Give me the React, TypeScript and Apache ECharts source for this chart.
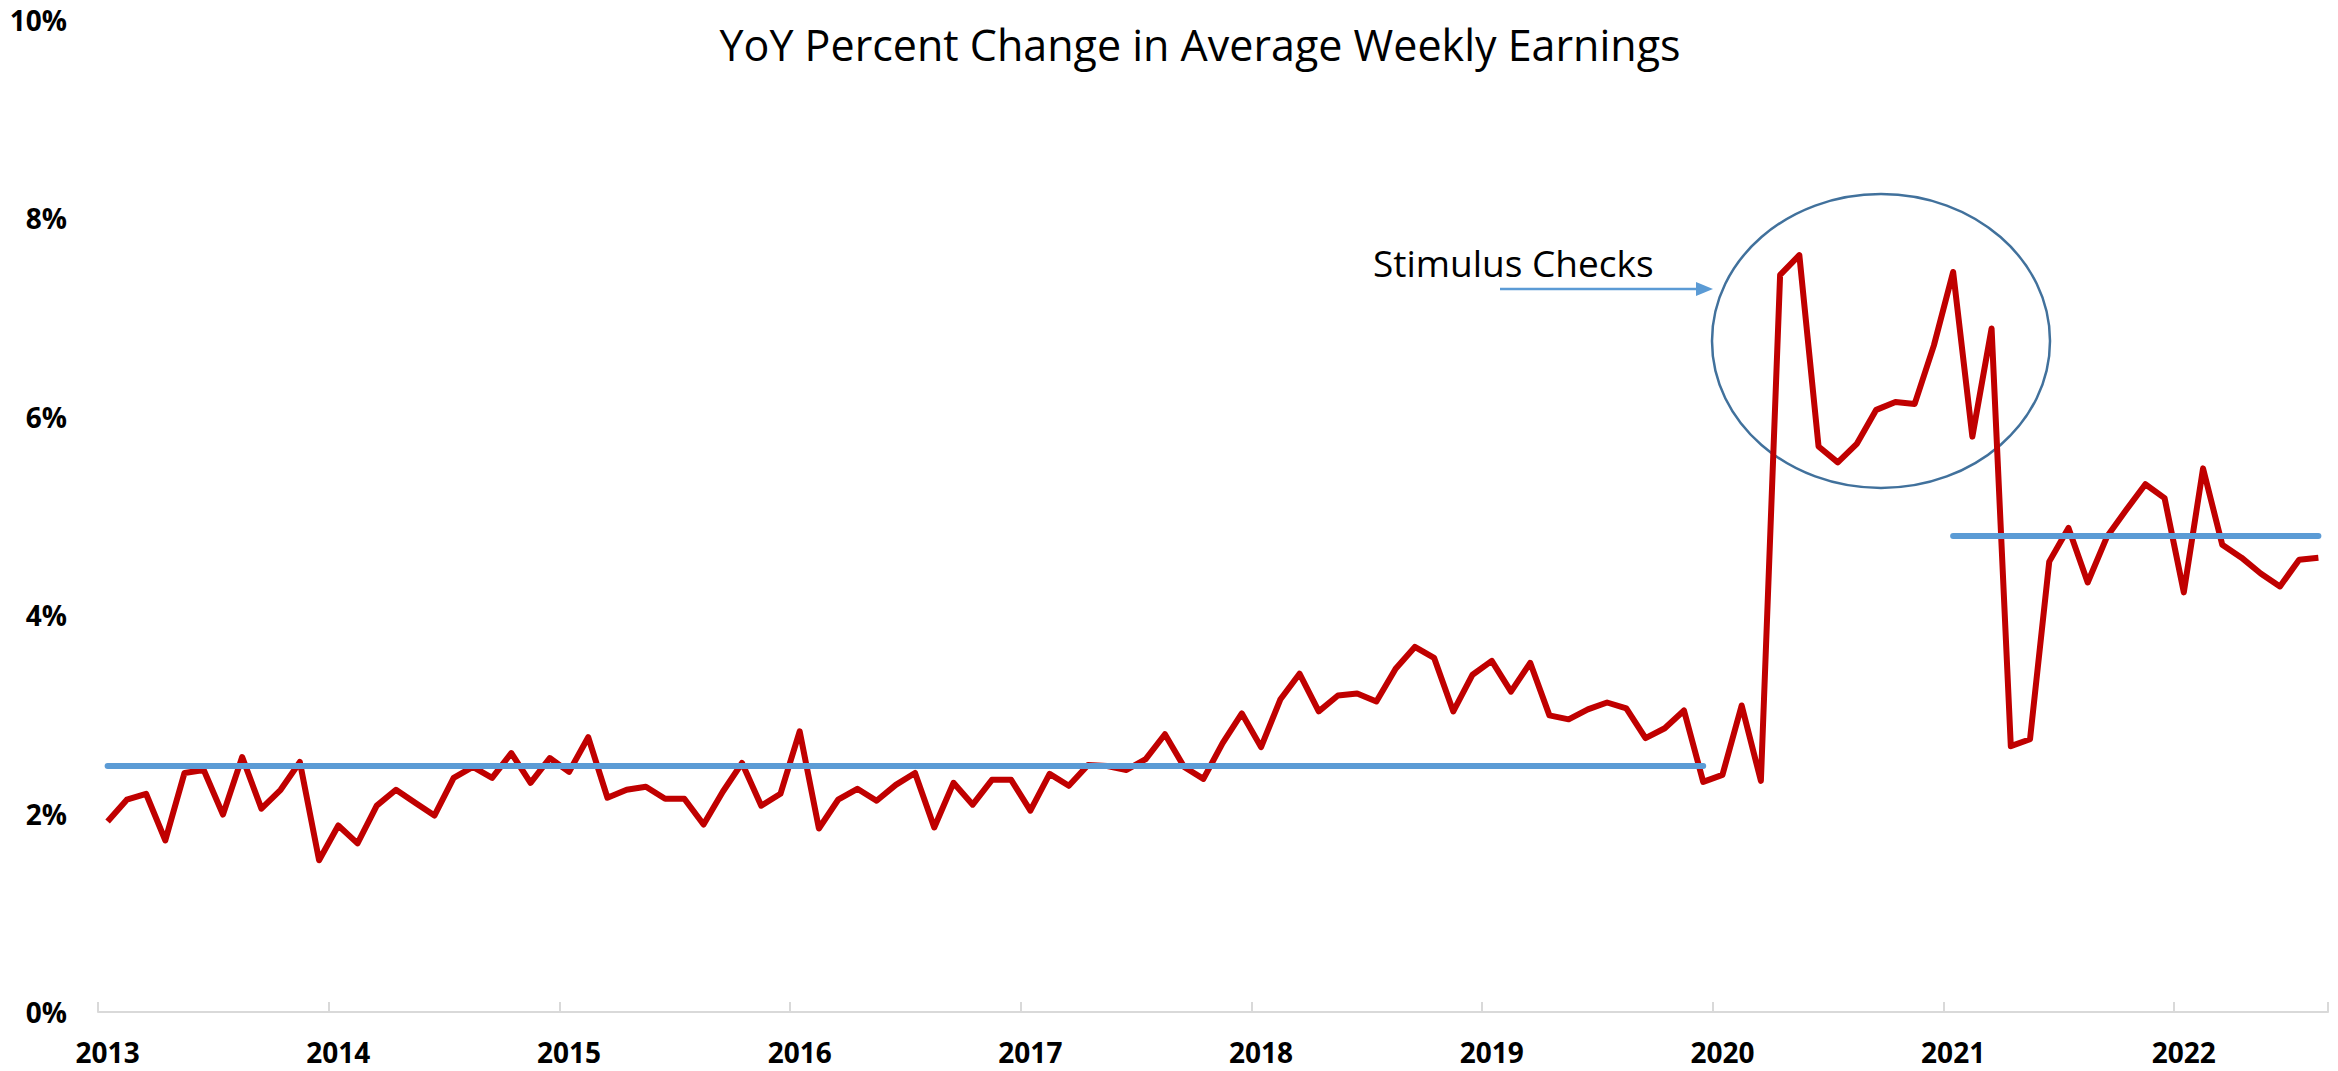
import React, { useEffect, useRef } from "react";
import * as echarts from "echarts";

const years = ["2013", "2014", "2015", "2016", "2017", "2018", "2019", "2020", "2021", "2022"];
const months = ["01", "02", "03", "04", "05", "06", "07", "08", "09", "10", "11", "12"];
const lastMonthCount = 8; // data through Aug 2022

const yoy2013 = [1.92, 2.14, 2.2, 1.73, 2.41, 2.44, 1.99, 2.57, 2.05, 2.24, 2.52, 1.53];
const yoy2014 = [1.88, 1.7, 2.08, 2.24, 2.11, 1.98, 2.36, 2.47, 2.36, 2.61, 2.31, 2.56];
const yoy2015 = [2.42, 2.77, 2.16, 2.24, 2.27, 2.15, 2.15, 1.89, 2.22, 2.51, 2.08, 2.2];
const yoy2016 = [2.83, 1.85, 2.14, 2.25, 2.13, 2.29, 2.41, 1.86, 2.31, 2.09, 2.34, 2.34];
const yoy2017 = [2.03, 2.4, 2.28, 2.49, 2.48, 2.44, 2.55, 2.8, 2.47, 2.35, 2.71, 3.01];
const yoy2018 = [2.67, 3.15, 3.41, 3.03, 3.19, 3.21, 3.13, 3.46, 3.68, 3.57, 3.03, 3.4];
const yoy2019 = [3.54, 3.23, 3.52, 2.99, 2.95, 3.05, 3.12, 3.06, 2.76, 2.86, 3.04, 2.32];
const yoy2020 = [2.39, 3.09, 2.33, 7.43, 7.63, 5.7, 5.54, 5.73, 6.07, 6.15, 6.13, 6.72];
const yoy2021 = [7.46, 5.8, 6.89, 2.68, 2.75, 4.54, 4.88, 4.33, 4.79, 5.06, 5.32, 5.18];
const yoy2022 = [4.23, 5.48, 4.71, 4.58, 4.42, 4.29, 4.56, 4.58];

const avgPeriodStart = ["2013-01", "2021-01"];
const avgPeriodEnd = ["2019-12", "2022-08"];
const avgPeriodValue = [2.48, 4.8];

const yTicks = [0, 2, 4, 6, 8, 10];

const titleText = "YoY Percent Change in Average Weekly Earnings";
const annotationText = "Stimulus Checks";

export default function App() {
  const ref = useRef<HTMLDivElement>(null);

  useEffect(() => {
    if (!ref.current) return;
    const chart = echarts.init(ref.current, undefined, { renderer: "svg" });

    const categories: string[] = [];
    years.forEach((y, yi) => {
      const n = yi === years.length - 1 ? lastMonthCount : 12;
      for (let m = 0; m < n; m++) categories.push(y + "-" + months[m]);
    });
    const values = [
      ...yoy2013, ...yoy2014, ...yoy2015, ...yoy2016, ...yoy2017,
      ...yoy2018, ...yoy2019, ...yoy2020, ...yoy2021, ...yoy2022,
    ];

    const font = "'Open Sans', 'Noto Sans', sans-serif";
    const blue = "#5B9BD5";

    chart.setOption({
      animation: false,
      backgroundColor: "#ffffff",
      grid: { left: 98, right: 10, top: 20, bottom: 59, containLabel: false },
      xAxis: {
        type: "category",
        data: categories,
        boundaryGap: true,
        axisLine: { show: true, lineStyle: { color: "#D9D9D9", width: 2 } },
        axisTick: {
          show: true,
          inside: true,
          length: 10,
          interval: (i: number) => i % 12 === 0,
          lineStyle: { color: "#D9D9D9", width: 2 },
        },
        axisLabel: {
          interval: (i: number) => i % 12 === 0,
          formatter: (v: string) => v.slice(0, 4),
          fontSize: 28,
          fontWeight: "bold",
          fontFamily: font,
          color: "#000",
          margin: 26,
        },
        splitLine: { show: false },
      },
      yAxis: {
        type: "value",
        min: yTicks[0],
        max: yTicks[yTicks.length - 1],
        interval: 2,
        axisLine: { show: false },
        axisTick: { show: false },
        splitLine: { show: false },
        axisLabel: {
          formatter: "{value}%",
          fontSize: 28,
          fontWeight: "bold",
          fontFamily: font,
          color: "#000",
          margin: 31,
        },
      },
      series: [
        {
          type: "line",
          data: values,
          showSymbol: false,
          symbol: "none",
          lineStyle: { color: "#C00000", width: 6, join: "round" },
          itemStyle: { color: "#C00000" },
          z: 2,
        },
        {
          type: "line",
          data: [],
          z: 3,
          markLine: {
            silent: true,
            symbol: ["none", "none"],
            label: { show: false },
            lineStyle: { color: blue, width: 6, type: "solid", cap: "round" },
            data: avgPeriodValue.map((v, k) => [
              { coord: [avgPeriodStart[k], v] },
              { coord: [avgPeriodEnd[k], v] },
            ]),
          },
        },
      ],
      graphic: [
        {
          type: "text",
          x: 1200,
          y: 44,
          style: {
            text: titleText,
            fontSize: 43,
            fontFamily: font,
            fill: "#000",
            textAlign: "center",
            textVerticalAlign: "middle",
          },
        },
        {
          type: "text",
          x: 1373,
          y: 262,
          style: {
            text: annotationText,
            fontSize: 37,
            fontFamily: font,
            fill: "#000",
            textAlign: "left",
            textVerticalAlign: "middle",
          },
        },
        {
          type: "line",
          shape: { x1: 1500, y1: 289, x2: 1698, y2: 289 },
          style: { stroke: blue, lineWidth: 2.5 },
        },
        {
          type: "polygon",
          shape: { points: [[1713, 289], [1696, 282], [1696, 296]] },
          style: { fill: blue },
        },
        {
          type: "ellipse",
          shape: { cx: 1881, cy: 341, rx: 169, ry: 147 },
          style: { fill: "none", stroke: "#41719C", lineWidth: 2.5 },
        },
      ],
    });

    return () => chart.dispose();
  }, []);

  return (
    <div
      ref={ref}
      style={{ position: "fixed", left: 0, top: 0, width: 2338, height: 1071, background: "#fff" }}
    />
  );
}
